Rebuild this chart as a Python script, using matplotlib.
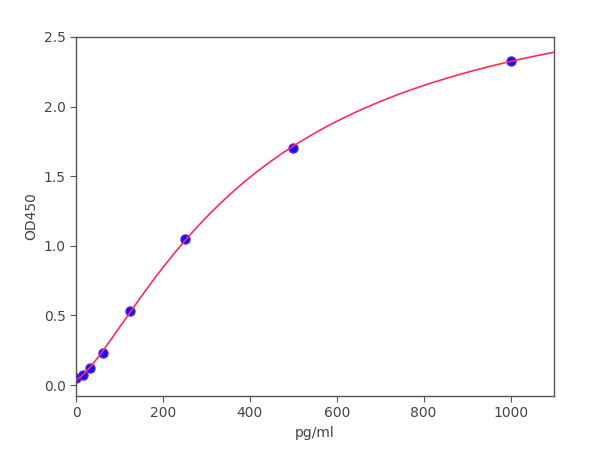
import numpy as np
import matplotlib
matplotlib.use("Agg")
import matplotlib.pyplot as plt

conc = [0, 15.6, 31.25, 62.5, 125, 250, 500, 1000]
od = [0.05, 0.07, 0.12, 0.23, 0.53, 1.05, 1.70, 2.33]
xticks = [0, 200, 400, 600, 800, 1000]
yticks = [0.0, 0.5, 1.0, 1.5, 2.0, 2.5]

x = np.array(conc, float)
y = np.array(od, float)

def f(p, x):
    a, b, c, d = p
    return d + (a - d) / (1 + (np.maximum(x, 1e-9) / c) ** b)

# simple Levenberg-Marquardt 4PL fit
p = np.array([0.04, 1.5, 400.0, 3.0])
lam = 1e-2
def res(p):
    return f(p, x) - y
for _ in range(500):
    r = res(p)
    J = np.zeros((len(x), 4))
    for i in range(4):
        dp = np.zeros(4); dp[i] = 1e-6 * max(abs(p[i]), 1)
        J[:, i] = (f(p + dp, x) - f(p - dp, x)) / (2 * dp[i])
    A = J.T @ J
    g = J.T @ r
    step = np.linalg.solve(A + lam * np.diag(np.diag(A)), -g)
    pn = p + step
    if pn[2] > 0 and np.sum(res(pn) ** 2) < np.sum(r ** 2):
        p = pn; lam *= 0.5
    else:
        lam *= 4

fig = plt.figure(figsize=(6, 4.5), dpi=100)
ax = fig.add_axes([0.1267, 0.12, 0.7966, 0.7978])
xs = np.linspace(0, 1100, 400)
ax.plot(x, y, 'o', color='#1010ff', markeredgecolor='#5a1ee0', markersize=6.5, zorder=2)
ax.plot(xs, f(p, xs), color='#ff2d55', lw=1.2, zorder=3)
ax.set_xlim(0, 1100)
ax.set_ylim(-0.079, 2.5)
ax.set_xticks(xticks)
ax.set_yticks(yticks)
ax.set_yticklabels([f"{v:.1f}" for v in yticks])
for s in ax.spines.values():
    s.set_color('#555555')
    s.set_linewidth(1.0)
ax.tick_params(colors='#555555', labelcolor='#444444', labelsize=10, length=4)
ax.set_xlabel('pg/ml', color='#444444', fontsize=10)
ax.set_ylabel('OD450', color='#444444', fontsize=10)
fig.savefig('out.png', dpi=100)
